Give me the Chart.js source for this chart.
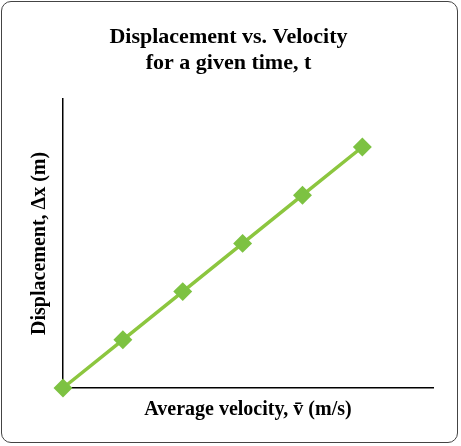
<!DOCTYPE html>
<html><head><script src="https://cdn.jsdelivr.net/npm/chart.js@4"></script>
<style>html,body{margin:0;padding:0;background:#fff}
#w{position:absolute;left:1px;top:1px;width:457px;height:442px;border:1px solid #444;border-radius:10px;box-sizing:border-box;}
canvas{position:absolute;left:0;top:0}</style></head>
<body><div id="w"></div><canvas id="c" width="461" height="446"></canvas>
<script>
const velocities=[0,1,2,3,4,5];
const displacements=[0,1,2,3,4,5];
const titleLines=["Displacement vs. Velocity","for a given time, t"];
const xTitle="Average velocity, v̄ (m/s)";
const yTitle="Displacement, Δx (m)";
const green="#8cc63f";
new Chart(document.getElementById('c'),{type:'scatter',
data:{datasets:[{data:velocities.map((v,i)=>({x:v,y:displacements[i]})),showLine:true,borderColor:green,borderWidth:3.5,
pointStyle:'rectRot',pointRadius:7,pointBackgroundColor:'#7dc242',pointBorderColor:'#7dc242',clip:false}]},
options:{responsive:false,animation:false,devicePixelRatio:1,
layout:{padding:{left:24,right:28,top:20,bottom:20}},
plugins:{legend:{display:false},tooltip:{enabled:false},
title:{display:true,text:titleLines,color:'#000',font:{family:'Liberation Serif',size:22,weight:'bold'},padding:{top:4,bottom:22}}},
scales:{x:{type:'linear',min:0,max:6.18,ticks:{display:false},grid:{display:false,drawTicks:false},border:{color:'#000',width:1.5},
title:{display:true,text:xTitle,color:'#000',font:{family:'Liberation Serif',size:20,weight:'bold'},padding:{top:10}}},
y:{type:'linear',min:0,max:6,ticks:{display:false},grid:{display:false,drawTicks:false},border:{color:'#000',width:1.5},
title:{display:true,text:yTitle,color:'#000',font:{family:'Liberation Serif',size:20,weight:'bold'},padding:{bottom:11}}}}}});
</script></body></html>
